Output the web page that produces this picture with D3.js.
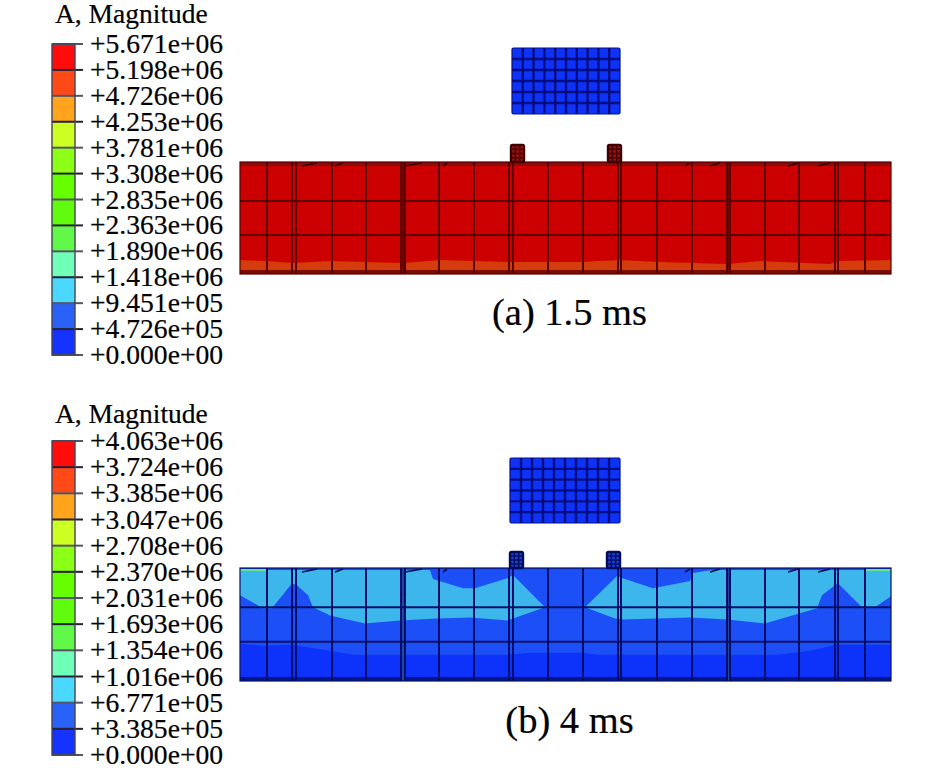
<!DOCTYPE html>
<html><head><meta charset="utf-8">
<script src="https://cdn.jsdelivr.net/npm/d3@7"></script>
<style>html,body{margin:0;padding:0;background:#fff}svg{display:block}text{font-family:"Liberation Serif",serif;fill:#000;stroke:#000;stroke-width:.2px}</style>
</head><body><svg id="c" width="945" height="772"></svg>
<script>
const legendTitle = "A, Magnitude";
const ticksA = ["+5.671e+06","+5.198e+06","+4.726e+06","+4.253e+06","+3.781e+06","+3.308e+06","+2.835e+06","+2.363e+06","+1.890e+06","+1.418e+06","+9.451e+05","+4.726e+05","+0.000e+00"];
const ticksB = ["+4.063e+06","+3.724e+06","+3.385e+06","+3.047e+06","+2.708e+06","+2.370e+06","+2.031e+06","+1.693e+06","+1.354e+06","+1.016e+06","+6.771e+05","+3.385e+05","+0.000e+00"];
const bandColors = ["#ff0a10","#ff4a18","#ffa41c","#ccff22","#8cff12","#66ff00","#60fb08","#62f848","#70ffb8","#4cd8ff","#2a62f8","#1430ff"];
// beam mesh lines (mm along the beam, mm of depth)
const meshX = [27,52,56,92,126,161,165,199,234,269,273,308,343,378,381,417,452,487,490,525,559,595,598,625];
const meshY = [39,73];
// thick joints between paired mesh lines
const joints = [[161,165],[487,490]];
// short dark slashes along the top edge
const slashes = [[62,77],[95,103],[165,182],[203,207],[445,450],[470,480],[548,558],[578,590]];
// contour boundaries, panel (a)
const orangeEdge = [[0,98],[27,99],[53,101],[90,99],[163,101],[200,98],[270,100],[340,100],[378,98],[420,100],[487,102],[520,99],[590,102],[598,99],[651,98]];
// contour boundaries, panel (b)
const lightLeft = [[0,2],[190,2],[193,11],[223,20],[235,20],[268,10],[273,7],[305,39],[273,50],[268,52],[230,49],[197,50],[160,52],[125,55],[90,47],[73,39],[68,27],[57,17],[52,15],[32,40],[23,40],[0,27]];
const lightRight = [[345,39],[377,8],[382,10],[413,20],[450,13],[453,5],[472,2],[651,2],[651,28],[635,39],[623,40],[598,15],[595,17],[582,27],[577,40],[525,55],[487,51],[450,49],[383,51],[375,50]];
const deepEdge = [[0,75],[23,77],[52,76],[90,82],[113,86],[268,86],[290,84],[343,84],[357,86],[537,86],[570,82],[597,76],[651,76]];
const panels = [
  {ticks:ticksA, title:[55,23], bar:[44,355], x0:240, top:162, bottom:274, blockX:[512,620], blockY:[48,114], posts:[[511,524],[608,621]], postY:145,
   base:"#cc0000", line:"#5a0000", strip:"#8a0c0c", stripD:4, jointC:"#7a0404", caption:"(a) 1.5 ms", capX:569.5, capY:325, postFill:"#a01010", postLine:"#3a0000"},
  {ticks:ticksB, title:[55,423], bar:[441,755], x0:240, top:568, bottom:681, blockX:[510,620], blockY:[458,523], posts:[[510,523],[607,620]], postY:552,
   base:"#1f50f5", line:"#04106a", strip:"#1a40d8", stripD:1.5, jointC:"#1a4aa8", caption:"(b) 4 ms", capX:569.5, capY:733, postFill:"#1a40e0", postLine:"#041058"}
];
const svg = d3.select("#c");
const defs = svg.append("defs");
defs.append("filter").attr("id","soft").attr("x","-5%").attr("y","-5%").attr("width","110%").attr("height","110%")
  .append("feGaussianBlur").attr("stdDeviation",0.7);

panels.forEach((p,pi)=>{
  const g = svg.append("g");
  g.append("text").attr("x",p.title[0]).attr("y",p.title[1]).attr("font-size",27.5).text(legendTitle);
  const yT = d3.scalePoint().domain(p.ticks).range(p.bar);
  const lg = g.append("g").attr("filter","url(#soft)");
  lg.selectAll("rect.b").data(bandColors).join("rect").attr("class","b")
    .attr("x",52).attr("width",23)
    .attr("y",(d,i)=>yT(p.ticks[i])).attr("height",yT.step())
    .attr("fill",d=>d);
  lg.selectAll("line.t").data(p.ticks).join("line").attr("class","t")
    .attr("x1",52).attr("x2",83).attr("y1",d=>yT(d)).attr("y2",d=>yT(d))
    .attr("stroke",(d,i)=> (i%2 ? "#223" : "#556")).attr("stroke-width",2);
  lg.append("rect").attr("x",52).attr("y",p.bar[0]).attr("width",23).attr("height",p.bar[1]-p.bar[0])
    .attr("fill","none").attr("stroke","#445").attr("stroke-width",1.4);
  g.selectAll("text.l").data(p.ticks).join("text").attr("class","l")
    .attr("x",90).attr("y",d=>yT(d)+9).attr("font-size",27.6).text(d=>d);

  const x = d3.scaleLinear().domain([0,651]).range([p.x0,891]);
  const y = d3.scaleLinear().domain([0,112]).range([p.top,p.bottom]);
  const m = g.append("g").attr("filter","url(#soft)");
  m.append("rect").attr("x",x(0)).attr("y",y(0)).attr("width",x(651)-x(0)).attr("height",y(112)-y(0)).attr("fill",p.base);
  const line = d3.line().x(d=>x(d[0])).y(d=>y(d[1]));
  const area = d3.area().x(d=>x(d[0])).y0(y(112)).y1(d=>y(d[1]));
  if(pi===0){
    m.append("path").attr("d",area(orangeEdge)).attr("fill","#d43a08");
  } else {
    [lightLeft,lightRight].forEach(poly=>m.append("path").attr("d",line(poly)+"Z").attr("fill","#3cb6ec"));
    m.append("path").attr("d",area(deepEdge)).attr("fill","#1030fa");
  }
  // strips
  m.append("rect").attr("x",x(0)).attr("y",y(0)).attr("width",x(651)-x(0)).attr("height",y(p.stripD)-y(0)).attr("fill",p.strip);
  m.append("rect").attr("x",x(0)).attr("y",y(108)).attr("width",x(651)-x(0)).attr("height",y(112)-y(108)).attr("fill",pi?"#06188a":"#7a1004");
  if(pi===1){
    [[0,27],[625,651]].forEach(s=>m.append("line").attr("x1",x(s[0])).attr("x2",x(s[1])).attr("y1",y(2)).attr("y2",y(2)).attr("stroke","#60e890").attr("stroke-width",2));
  }
  // joints
  m.selectAll("rect.j").data(joints).join("rect").attr("class","j")
    .attr("x",d=>x(d[0])).attr("width",d=>x(d[1])-x(d[0])).attr("y",y(0)).attr("height",y(112)-y(0))
    .attr("fill",p.jointC);
  // mesh
  m.selectAll("line.v").data(meshX).join("line").attr("class","v")
    .attr("x1",d=>x(d)).attr("x2",d=>x(d)).attr("y1",y(0)).attr("y2",y(112))
    .attr("stroke",p.line).attr("stroke-width",2);
  m.selectAll("line.h").data(meshY).join("line").attr("class","h")
    .attr("x1",x(0)).attr("x2",x(651)).attr("y1",d=>y(d)).attr("y2",d=>y(d))
    .attr("stroke",p.line).attr("stroke-width",2);
  m.append("rect").attr("x",x(0)).attr("y",y(0)).attr("width",x(651)-x(0)).attr("height",y(112)-y(0))
    .attr("fill","none").attr("stroke",p.line).attr("stroke-width",1.2);
  m.selectAll("line.s").data(slashes).join("line").attr("class","s")
    .attr("x1",d=>x(d[0])).attr("x2",d=>x(d[1])).attr("y1",y(4)).attr("y2",y(1))
    .attr("stroke",pi?"#040c50":"#300000").attr("stroke-width",1.6);

  // impactor block: 10 x 6 cells
  const bx = d3.scaleBand().domain(d3.range(10)).range(p.blockX);
  const by = d3.scaleBand().domain(d3.range(6)).range(p.blockY);
  m.append("rect").attr("x",p.blockX[0]).attr("y",p.blockY[0])
    .attr("width",p.blockX[1]-p.blockX[0]).attr("height",p.blockY[1]-p.blockY[0])
    .attr("rx",1.5).attr("fill","#1030f8");
  m.selectAll("line.bv").data(d3.range(1,10)).join("line").attr("class","bv")
    .attr("x1",d=>bx(d)).attr("x2",d=>bx(d)).attr("y1",p.blockY[0]).attr("y2",p.blockY[1])
    .attr("stroke","#061080").attr("stroke-width",2.4);
  m.selectAll("line.bh").data(d3.range(1,6)).join("line").attr("class","bh")
    .attr("x1",p.blockX[0]).attr("x2",p.blockX[1]).attr("y1",d=>by(d)).attr("y2",d=>by(d))
    .attr("stroke","#061080").attr("stroke-width",2.4);
  m.append("rect").attr("x",p.blockX[0]).attr("y",p.blockY[0])
    .attr("width",p.blockX[1]-p.blockX[0]).attr("height",p.blockY[1]-p.blockY[0])
    .attr("rx",1.5).attr("fill","none").attr("stroke","#061080").attr("stroke-width",1.2);

  // supports: 3 x 4 cells
  p.posts.forEach(q=>{
    const px = d3.scaleBand().domain(d3.range(3)).range(q);
    const py = d3.scaleBand().domain(d3.range(4)).range([p.postY,p.top]);
    m.append("rect").attr("x",q[0]).attr("y",p.postY).attr("width",q[1]-q[0]).attr("height",p.top-p.postY)
      .attr("rx",1.5).attr("fill",p.postFill).attr("stroke",p.postLine).attr("stroke-width",2.4);
    m.selectAll(null).data(d3.range(1,3)).join("line")
      .attr("x1",d=>px(d)).attr("x2",d=>px(d)).attr("y1",p.postY).attr("y2",p.top)
      .attr("stroke",p.postLine).attr("stroke-width",1.5);
    m.selectAll(null).data(d3.range(1,4)).join("line")
      .attr("x1",q[0]).attr("x2",q[1]).attr("y1",d=>py(d)).attr("y2",d=>py(d))
      .attr("stroke",p.postLine).attr("stroke-width",1.5);
  });
  g.append("text").attr("x",p.capX).attr("y",p.capY).attr("text-anchor","middle").attr("font-size",38.5).text(p.caption);
});
</script></body></html>
